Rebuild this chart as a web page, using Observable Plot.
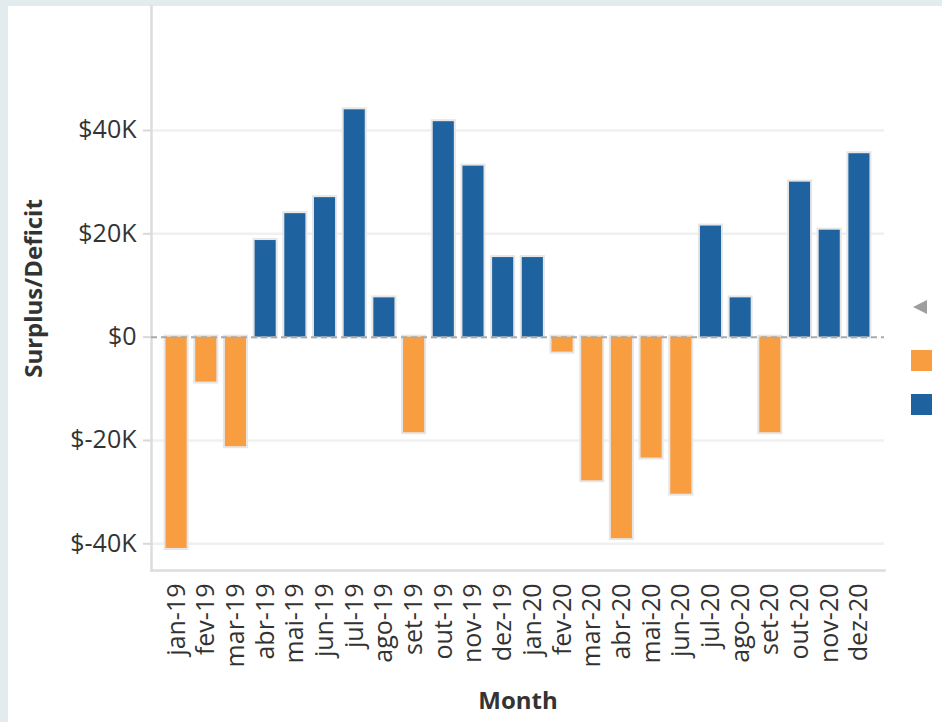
<!DOCTYPE html>
<html>
<head>
<meta charset="utf-8">
<script src="https://cdn.jsdelivr.net/npm/d3@7"></script>
<script src="https://cdn.jsdelivr.net/npm/@observablehq/plot@0.6"></script>
<style>
  html, body { margin: 0; padding: 0; width: 942px; height: 722px; overflow: hidden; background: #e2ebed; }
  #panel { position: absolute; left: 8px; top: 6px; width: 934px; height: 716px; background: #ffffff; }
  #chart { position: absolute; left: 0; top: 0; }
  .sw { position: absolute; width: 21px; height: 21px; }
  #tri { position: absolute; left: 913px; top: 300px; width: 0; height: 0;
         border-top: 7px solid transparent; border-bottom: 7px solid transparent; border-right: 14px solid #9e9e9e; }
</style>
</head>
<body>
<div id="panel"></div>
<div id="chart"></div>
<div id="tri"></div>
<div class="sw" id="swDeficit" style="left:911px; top:350px;"></div>
<div class="sw" id="swSurplus" style="left:911px; top:394px;"></div>
<script>
const months = ["jan-19","fev-19","mar-19","abr-19","mai-19","jun-19","jul-19","ago-19","set-19","out-19","nov-19","dez-19",
                "jan-20","fev-20","mar-20","abr-20","mai-20","jun-20","jul-20","ago-20","set-20","out-20","nov-20","dez-20"];
const values = [-40900, -8700, -21200, 18700, 23900, 27000, 44000, 7600, -18500, 41700, 33100, 15400,
                15400, -2900, -27800, -39000, -23400, -30400, 21500, 7600, -18500, 30000, 20700, 35500];
const yTicks = [-40000, -20000, 0, 20000, 40000];
const signs = ["Deficit", "Surplus"];
const signColors = ["#f89e40", "#1e63a0"];
const yTitle = "Surplus/Deficit";
const xTitle = "Month";

document.getElementById("swDeficit").style.background = signColors[0];
document.getElementById("swSurplus").style.background = signColors[1];

const data = months.map((m, i) => ({month: m, value: values[i], sign: values[i] < 0 ? signs[0] : signs[1]}));
const fmt = d => d === 0 ? "$0" : `$${d / 1000}K`;

const chart = Plot.plot({
  width: 942,
  height: 722,
  marginLeft: 151,
  marginRight: 58,
  marginTop: 6,
  marginBottom: 152,
  style: {fontFamily: "'Open Sans', sans-serif", fontSize: "25px", color: "#333", background: "transparent", overflow: "visible"},
  x: {domain: months, paddingInner: 0.29, paddingOuter: 0.49, round: false, label: null},
  y: {domain: [-45170, 64000], label: null},
  color: {domain: signs, range: signColors},
  marks: [
    Plot.ruleY(yTicks.filter(d => d !== 0), {stroke: "#f0f0f0", strokeWidth: 2.5}),
    Plot.frame({anchor: "left", stroke: "#dcdcdc", strokeWidth: 2.5}),
    Plot.frame({anchor: "bottom", stroke: "#dcdcdc", strokeWidth: 2.5}),
    Plot.barY(data, {x: "month", y: "value", fill: "sign", stroke: "#e6e6e6", strokeWidth: 4}),
    Plot.barY(data, {x: "month", y: "value", fill: "sign"}),
    Plot.ruleY([0], {stroke: "#aaaaaa", strokeWidth: 2, strokeDasharray: "6,4"}),
    Plot.axisY({ticks: yTicks, tickFormat: fmt, tickSize: 8, tickPadding: 7, stroke: "#d8d8d8", strokeWidth: 2, label: null}),
    Plot.text([yTitle], {frameAnchor: "left", rotate: -90, dx: -117, textAnchor: "middle", lineAnchor: "middle",
                         fontWeight: "bold", fontSize: 24, fill: "#333"}),
    Plot.axisX({tickRotate: -90, tickSize: 0, tickPadding: 13, label: null}),
    Plot.axisX({ticks: [], label: xTitle, labelAnchor: "center", labelOffset: 138, fontWeight: "bold", fontSize: 24})
  ]
});
document.getElementById("chart").appendChild(chart);
</script>
</body>
</html>
